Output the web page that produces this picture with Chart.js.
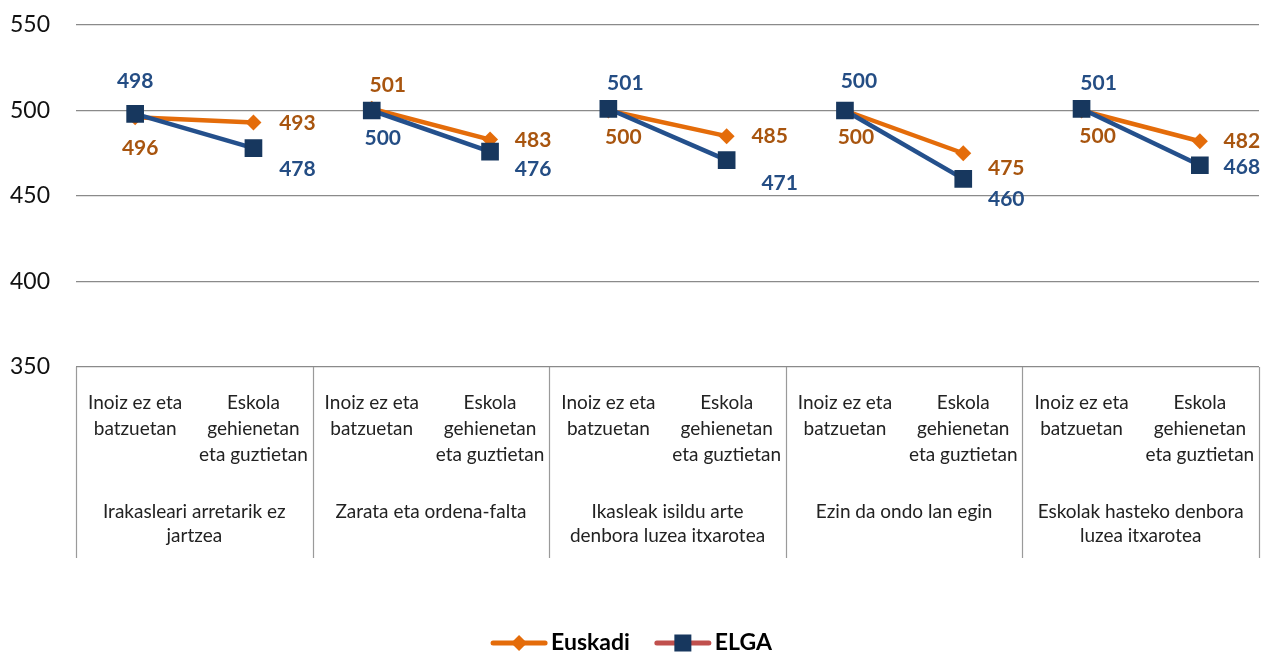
<!DOCTYPE html>
<html><head><meta charset="utf-8">
<script src="https://cdn.jsdelivr.net/npm/chart.js@4/dist/chart.umd.min.js"></script>
<style>html,body{margin:0;padding:0;background:#fff;}#wrap{width:1263px;height:652px;}</style>
</head><body><div id="wrap"><canvas id="c" width="1263" height="652"></canvas></div>
<script>
// ---- data ----
const subCategories = [
  ["Inoiz ez eta","batzuetan"],["Eskola","gehienetan","eta guztietan"],
  ["Inoiz ez eta","batzuetan"],["Eskola","gehienetan","eta guztietan"],
  ["Inoiz ez eta","batzuetan"],["Eskola","gehienetan","eta guztietan"],
  ["Inoiz ez eta","batzuetan"],["Eskola","gehienetan","eta guztietan"],
  ["Inoiz ez eta","batzuetan"],["Eskola","gehienetan","eta guztietan"]
];
const groupLabels = [
  ["Irakasleari arretarik ez","jartzea"],
  ["Zarata eta ordena-falta"],
  ["Ikasleak isildu arte","denbora luzea itxarotea"],
  ["Ezin da ondo lan egin"],
  ["Eskolak hasteko denbora","luzea itxarotea"]
];
const seriesNames = ["Euskadi","ELGA"];
const euskadi = [496,493,501,483,500,485,500,475,500,482];
const elga    = [498,478,500,476,501,471,500,460,501,468];
const yTicks  = [350,400,450,500,550];

// label placement offsets (px, relative to point)
const euskadiLabelOffsets = [[5,31],[44,1],[16,-24],[43,1],[15,27],[43,0],[11,27],[43,15],[16,26],[42,0]];
const elgaLabelOffsets    = [[0,-33],[44,21],[11,28],[43,18],[17,-26],[53,23],[14,-29],[43,20],[17,-26],[42,2]];

const FONT = "Lato, 'Noto Sans', sans-serif";
const ORANGE = '#E46C0A', ORANGE_TXT = '#A8550F';
const NAVY = '#17375E', NAVY_LINE = '#24508C', NAVY_TXT = '#244D84', LEG_RED = '#C0504D';
const GRID = '#8a8a8a';

const segColor = c => ctx => (ctx.p0DataIndex % 2 === 1 ? 'rgba(0,0,0,0)' : c);

const labelPlugin = {
  id: 'dataLabels',
  afterDatasetsDraw(chart) {
    const ctx = chart.ctx;
    const cfg = [
      {ds: 0, offs: euskadiLabelOffsets, color: ORANGE_TXT},
      {ds: 1, offs: elgaLabelOffsets, color: NAVY_TXT}
    ];
    ctx.save();
    ctx.font = "bold 21px " + FONT;
    ctx.textAlign = 'center';
    ctx.textBaseline = 'middle';
    cfg.forEach(c => {
      const meta = chart.getDatasetMeta(c.ds);
      const vals = chart.data.datasets[c.ds].data;
      meta.data.forEach((pt, i) => {
        ctx.fillStyle = c.color;
        ctx.fillText(String(vals[i]), pt.x + c.offs[i][0], pt.y + c.offs[i][1]);
      });
    });
    ctx.restore();
  }
};

const axisPlugin = {
  id: 'groupAxis',
  afterDraw(chart) {
    const ctx = chart.ctx, xs = chart.scales.x;
    const n = subCategories.length;
    const bw = xs.width / n;
    const top = chart.chartArea.bottom, bottom = xs.bottom;
    ctx.save();
    ctx.strokeStyle = '#9a9a9a';
    ctx.lineWidth = 1.2;
    for (let g = 0; g <= groupLabels.length; g++) {
      const x = (g < groupLabels.length ? xs.getPixelForValue(g * 2) - bw / 2 : xs.getPixelForValue(n - 1) + bw / 2);
      const xx = Math.round(x) + 0.5;
      ctx.beginPath(); ctx.moveTo(xx, top); ctx.lineTo(xx, bottom); ctx.stroke();
    }
    ctx.fillStyle = '#222';
    ctx.font = "19px " + FONT;
    ctx.textAlign = 'center';
    ctx.textBaseline = 'middle';
    groupLabels.forEach((lines, g) => {
      const cx = (xs.getPixelForValue(g * 2) + xs.getPixelForValue(g * 2 + 1)) / 2;
      lines.forEach((t, k) => ctx.fillText(t, cx, top + 145 + k * 24));
    });
    ctx.restore();
  }
};

const legendPlugin = {
  id: 'customLegend',
  afterDraw(chart) {
    const ctx = chart.ctx;
    ctx.save();
    ctx.font = "bold 23px " + FONT;
    const lineW = 56, gapT = 4, gapItem = 25;
    const w0 = ctx.measureText(seriesNames[0]).width, w1 = ctx.measureText(seriesNames[1]).width;
    const total = lineW + gapT + w0 + gapItem + lineW + gapT + w1;
    let x = chart.width / 2 - total / 2;
    const y = 643;
    ctx.lineCap = 'round';
    // Euskadi
    ctx.strokeStyle = ORANGE; ctx.lineWidth = 5;
    ctx.beginPath(); ctx.moveTo(x + 2, y); ctx.lineTo(x + lineW - 2, y); ctx.stroke();
    ctx.fillStyle = ORANGE;
    ctx.beginPath(); ctx.moveTo(x + lineW/2, y - 8); ctx.lineTo(x + lineW/2 + 8, y); ctx.lineTo(x + lineW/2, y + 8); ctx.lineTo(x + lineW/2 - 8, y); ctx.closePath(); ctx.fill();
    x += lineW + gapT;
    ctx.fillStyle = '#000'; ctx.textAlign = 'left'; ctx.textBaseline = 'middle';
    ctx.fillText(seriesNames[0], x, y);
    x += w0 + gapItem;
    // ELGA
    ctx.strokeStyle = LEG_RED; ctx.lineWidth = 5;
    ctx.beginPath(); ctx.moveTo(x + 2, y); ctx.lineTo(x + lineW - 2, y); ctx.stroke();
    ctx.fillStyle = NAVY;
    ctx.fillRect(x + lineW / 2 - 8.5, y - 8.5, 17, 17);
    x += lineW + gapT;
    ctx.fillStyle = '#000';
    ctx.fillText(seriesNames[1], x, y);
    ctx.restore();
  }
};

new Chart(document.getElementById('c'), {
  type: 'line',
  data: {
    labels: subCategories,
    datasets: [
      {
        label: seriesNames[0], data: euskadi, order: 1,
        borderColor: ORANGE, borderWidth: 4.5, tension: 0,
        segment: {borderColor: segColor(ORANGE)},
        pointStyle: 'rectRot', pointRadius: 8, pointHoverRadius: 8,
        pointBackgroundColor: ORANGE, pointBorderColor: ORANGE, pointBorderWidth: 0
      },
      {
        label: seriesNames[1], data: elga, order: 0,
        borderColor: LEG_RED, borderWidth: 4.5, tension: 0,
        segment: {borderColor: segColor(NAVY_LINE)},
        pointStyle: 'rect', pointRadius: 12.5, pointHoverRadius: 12.5,
        pointBackgroundColor: NAVY, pointBorderColor: NAVY, pointBorderWidth: 0
      }
    ]
  },
  options: {
    responsive: false, animation: false, devicePixelRatio: 1,
    layout: {autoPadding: false, padding: {top: 25, right: 4, bottom: 94, left: 0}},
    plugins: {legend: {display: false}, tooltip: {enabled: false}},
    scales: {
      x: {
        type: 'category', offset: true,
        grid: {display: false, drawTicks: false},
        border: {display: false},
        ticks: {
          autoSkip: false, maxRotation: 0, minRotation: 0, padding: 23,
          color: '#222', font: {family: FONT, size: 19, lineHeight: 1.37}
        },
        afterFit(s) { s.height = 191; s.paddingLeft = 0; s.paddingRight = 0; }
      },
      y: {
        min: 350, max: 550,
        afterBuildTicks(s) { s.ticks = yTicks.map(v => ({value: v})); },
        grid: {color: GRID, lineWidth: 1.3, drawTicks: false},
        border: {display: false},
        ticks: {padding: 26, color: '#111', font: {family: FONT, size: 23}},
        afterFit(s) { s.width = 76; s.paddingTop = 0; s.paddingBottom = 0; }
      }
    }
  },
  plugins: [labelPlugin, axisPlugin, legendPlugin]
});
</script></body></html>
